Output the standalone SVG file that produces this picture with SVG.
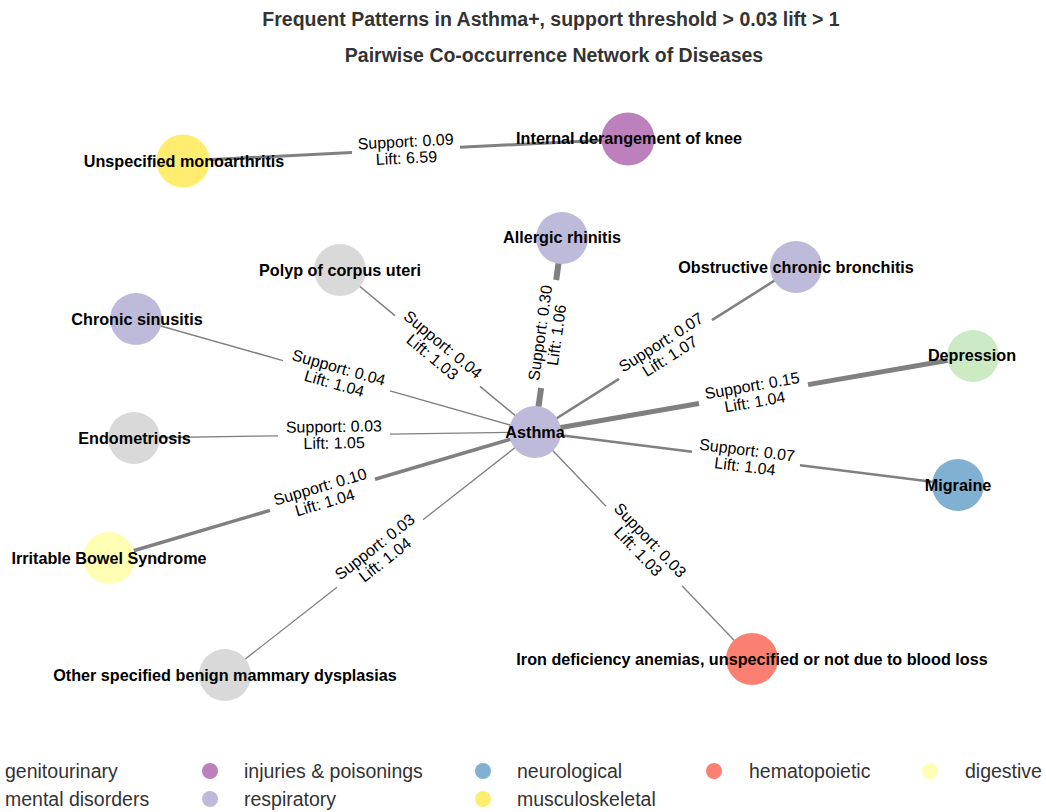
<svg xmlns="http://www.w3.org/2000/svg" width="1046" height="812" viewBox="0 0 1046 812">
  <style>
    .title { font-family: "Liberation Sans", Arial, sans-serif; font-weight: bold; font-size: 19.5px; fill: #333333; text-anchor: middle; }
    .edge { stroke: #808080; stroke-linecap: butt; fill: none; }
    .elabel { font-family: "Liberation Sans", Arial, sans-serif; font-size: 16px; fill: #000000; text-anchor: middle; }
    .nlabel { font-family: "Liberation Sans", Arial, sans-serif; font-weight: bold; font-size: 16.2px; fill: #000000; text-anchor: middle; }
    .legend { font-family: "Liberation Sans", Arial, sans-serif; font-size: 19.5px; fill: #333333; }
    .resp { fill: #bebada; }
    .geni { fill: #d9d9d9; }
    .ment { fill: #ccebc5; }
    .neur { fill: #80b1d3; }
    .dige { fill: #ffffb3; }
    .hema { fill: #fb8072; }
    .musc { fill: #ffed6f; }
    .inju { fill: #bc80bd; }
  </style>

  <rect width="1046" height="812" fill="#ffffff"/>

  <!-- titles -->
  <text class="title" x="551" y="26">Frequent Patterns in Asthma+, support threshold &gt; 0.03 lift &gt; 1</text>
  <text class="title" x="554" y="62">Pairwise Co-occurrence Network of Diseases</text>

  <!-- connectors: each edge is split around its rotated label -->
  <g id="edges">
    <g id="e-asthma-allergic">
      <line class="edge" stroke-width="6" x1="535" y1="432" x2="541.1" y2="388"/>
      <line class="edge" stroke-width="6" x1="556.2" y1="280" x2="562" y2="238"/>
      <g transform="translate(548.6,334) rotate(-82.1)">
        <text class="elabel" y="-3">Support: 0.30</text>
        <text class="elabel" y="13.5">Lift: 1.06</text>
      </g>
    </g>
    <g id="e-asthma-polyp">
      <line class="edge" stroke-width="1.5" x1="340" y1="270" x2="395" y2="315.7"/>
      <line class="edge" stroke-width="1.5" x1="480" y1="386.3" x2="535" y2="432"/>
      <g transform="translate(437.5,351) rotate(39.7)">
        <text class="elabel" y="-3">Support: 0.04</text>
        <text class="elabel" y="13.5">Lift: 1.03</text>
      </g>
    </g>
    <g id="e-asthma-sinusitis">
      <line class="edge" stroke-width="1.5" x1="136" y1="319" x2="283" y2="360.6"/>
      <line class="edge" stroke-width="1.5" x1="390" y1="390.9" x2="535" y2="432"/>
      <g transform="translate(336.5,375.8) rotate(15.8)">
        <text class="elabel" y="-3">Support: 0.04</text>
        <text class="elabel" y="13.5">Lift: 1.04</text>
      </g>
    </g>
    <g id="e-asthma-endometriosis">
      <line class="edge" stroke-width="1.3" x1="134" y1="438" x2="278" y2="435.8"/>
      <line class="edge" stroke-width="1.3" x1="390" y1="434.2" x2="535" y2="432"/>
      <g transform="translate(334,435) rotate(-0.86)">
        <text class="elabel" y="-3">Support: 0.03</text>
        <text class="elabel" y="13.5">Lift: 1.05</text>
      </g>
    </g>
    <g id="e-asthma-ibs">
      <line class="edge" stroke-width="3.5" x1="109" y1="558" x2="270" y2="510.4"/>
      <line class="edge" stroke-width="3.5" x1="375" y1="479.3" x2="535" y2="432"/>
      <g transform="translate(322.5,494.9) rotate(-16.5)">
        <text class="elabel" y="-3">Support: 0.10</text>
        <text class="elabel" y="13.5">Lift: 1.04</text>
      </g>
    </g>
    <g id="e-asthma-mammary">
      <line class="edge" stroke-width="1.3" x1="225" y1="675" x2="337" y2="587.2"/>
      <line class="edge" stroke-width="1.3" x1="423" y1="519.8" x2="535" y2="432"/>
      <g transform="translate(380,553.5) rotate(-38.1)">
        <text class="elabel" y="-3">Support: 0.03</text>
        <text class="elabel" y="13.5">Lift: 1.04</text>
      </g>
    </g>
    <g id="e-asthma-bronchitis">
      <line class="edge" stroke-width="2.5" x1="535" y1="432" x2="619" y2="378.9"/>
      <line class="edge" stroke-width="2.5" x1="712" y1="320.1" x2="796" y2="267"/>
      <g transform="translate(665.5,349.5) rotate(-32.3)">
        <text class="elabel" y="-3">Support: 0.07</text>
        <text class="elabel" y="13.5">Lift: 1.07</text>
      </g>
    </g>
    <g id="e-asthma-depression">
      <line class="edge" stroke-width="5" x1="535" y1="432" x2="699" y2="403.5"/>
      <line class="edge" stroke-width="5" x1="808" y1="384.6" x2="973" y2="356"/>
      <g transform="translate(753.5,394) rotate(-9.84)">
        <text class="elabel" y="-3">Support: 0.15</text>
        <text class="elabel" y="13.5">Lift: 1.04</text>
      </g>
    </g>
    <g id="e-asthma-migraine">
      <line class="edge" stroke-width="2.5" x1="535" y1="432" x2="692" y2="451.7"/>
      <line class="edge" stroke-width="2.5" x1="800" y1="465.2" x2="958" y2="485"/>
      <g transform="translate(746,458.5) rotate(7.14)">
        <text class="elabel" y="-3">Support: 0.07</text>
        <text class="elabel" y="13.5">Lift: 1.04</text>
      </g>
    </g>
    <g id="e-asthma-iron">
      <line class="edge" stroke-width="1.3" x1="535" y1="432" x2="606" y2="506.3"/>
      <line class="edge" stroke-width="1.3" x1="682" y1="585.8" x2="752" y2="659"/>
      <g transform="translate(644,546) rotate(46.3)">
        <text class="elabel" y="-3">Support: 0.03</text>
        <text class="elabel" y="13.5">Lift: 1.03</text>
      </g>
    </g>
    <g id="e-monoarthritis-knee">
      <line class="edge" stroke-width="3" x1="183" y1="161" x2="352" y2="152.6"/>
      <line class="edge" stroke-width="3" x1="460" y1="147.3" x2="628" y2="139"/>
      <g transform="translate(406,150) rotate(-2.83)">
        <text class="elabel" y="-3">Support: 0.09</text>
        <text class="elabel" y="13.5">Lift: 6.59</text>
      </g>
    </g>
  </g>

  <!-- nodes -->
  <g id="n-asthma"><circle class="resp" cx="535" cy="432" r="26"/><text class="nlabel" x="535" y="438">Asthma</text></g>
  <g id="n-allergic-rhinitis"><circle class="resp" cx="562" cy="238" r="26"/><text class="nlabel" x="562" y="243">Allergic rhinitis</text></g>
  <g id="n-polyp"><circle class="geni" cx="340" cy="270" r="26"/><text class="nlabel" x="340" y="276">Polyp of corpus uteri</text></g>
  <g id="n-bronchitis"><circle class="resp" cx="796" cy="267" r="26"/><text class="nlabel" x="796" y="273">Obstructive chronic bronchitis</text></g>
  <g id="n-sinusitis"><circle class="resp" cx="136" cy="319" r="26"/><text class="nlabel" x="137" y="325">Chronic sinusitis</text></g>
  <g id="n-depression"><circle class="ment" cx="973" cy="356" r="26"/><text class="nlabel" x="972" y="361">Depression</text></g>
  <g id="n-endometriosis"><circle class="geni" cx="134" cy="438" r="26"/><text class="nlabel" x="134.5" y="444">Endometriosis</text></g>
  <g id="n-migraine"><circle class="neur" cx="958" cy="485" r="26"/><text class="nlabel" x="958" y="491">Migraine</text></g>
  <g id="n-ibs"><circle class="dige" cx="109" cy="558" r="26"/><text class="nlabel" x="109" y="564">Irritable Bowel Syndrome</text></g>
  <g id="n-mammary"><circle class="geni" cx="225" cy="675" r="26"/><text class="nlabel" x="225" y="681">Other specified benign mammary dysplasias</text></g>
  <g id="n-iron"><circle class="hema" cx="752" cy="659" r="26"/><text class="nlabel" x="752" y="665">Iron deficiency anemias, unspecified or not due to blood loss</text></g>
  <g id="n-monoarthritis"><circle class="musc" cx="183" cy="161" r="26.5"/><text class="nlabel" x="184" y="167">Unspecified monoarthritis</text></g>
  <g id="n-knee"><circle class="inju" cx="628" cy="139" r="26.5"/><text class="nlabel" x="629" y="144">Internal derangement of knee</text></g>

  <!-- legend -->
  <g id="legend">
    <text class="legend" x="5" y="778">genitourinary</text>
    <circle class="inju" cx="210" cy="771" r="8"/>
    <text class="legend" x="244" y="778">injuries &amp; poisonings</text>
    <circle class="neur" cx="483" cy="771" r="8"/>
    <text class="legend" x="517" y="778">neurological</text>
    <circle class="hema" cx="714" cy="771" r="8"/>
    <text class="legend" x="749" y="778">hematopoietic</text>
    <circle class="dige" cx="930" cy="771" r="8"/>
    <text class="legend" x="965" y="778">digestive</text>

    <text class="legend" x="5" y="806">mental disorders</text>
    <circle class="resp" cx="210" cy="799" r="8"/>
    <text class="legend" x="244" y="806">respiratory</text>
    <circle class="musc" cx="483" cy="799" r="8"/>
    <text class="legend" x="517" y="806">musculoskeletal</text>
  </g>
</svg>
